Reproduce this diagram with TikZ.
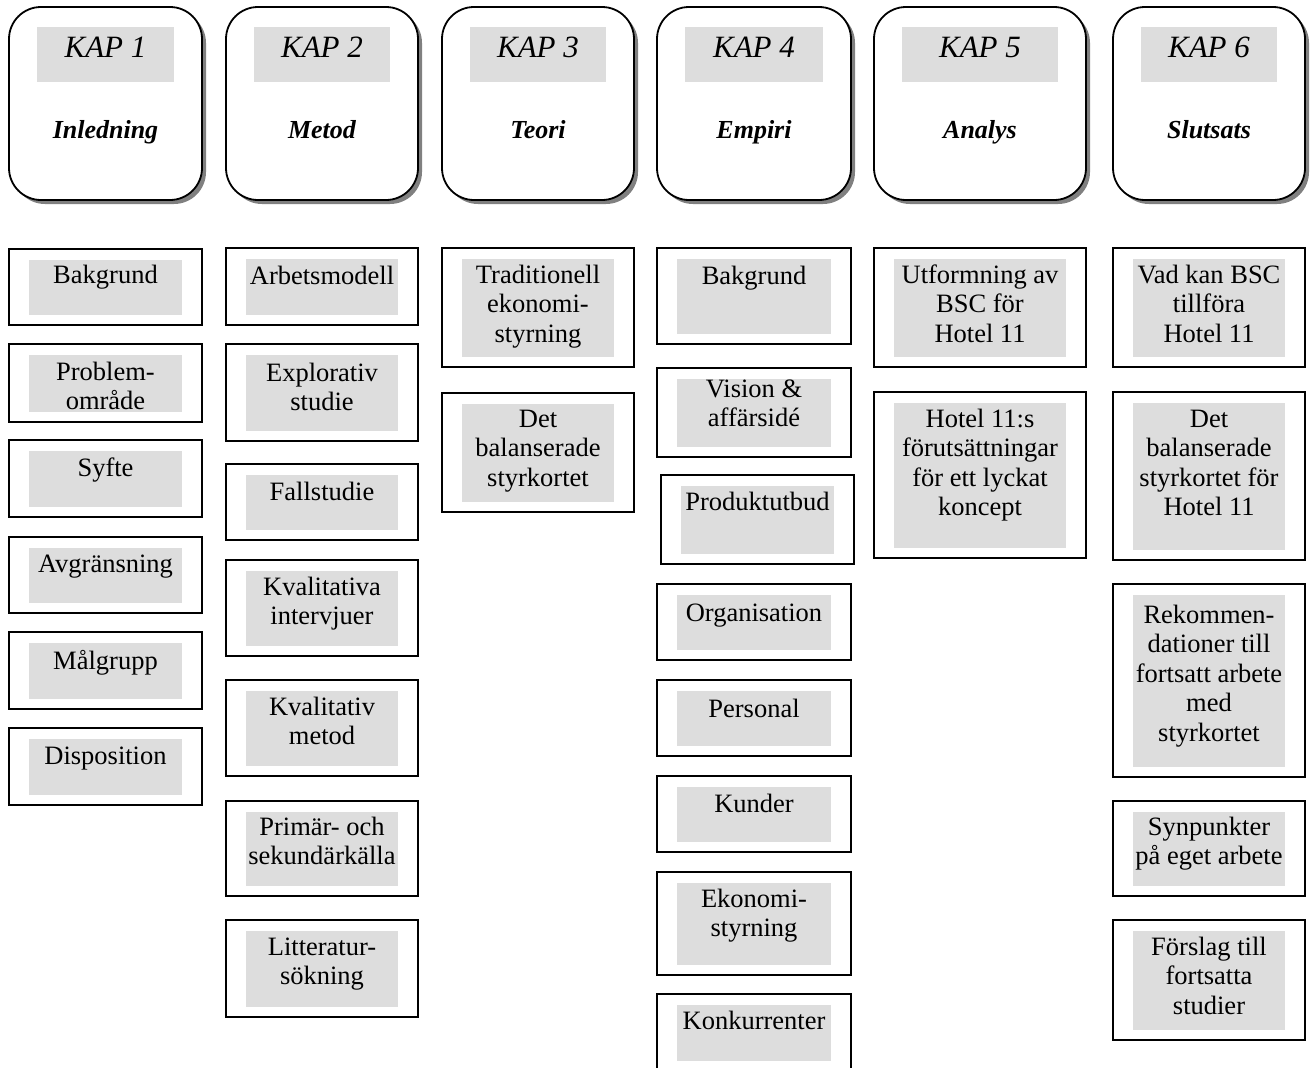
\documentclass[tikz,border=0pt]{standalone}
\usepackage{fontspec}
\setmainfont{Liberation Serif}
\usetikzlibrary{fit,calc,shadows}
\definecolor{panelgray}{HTML}{DDDDDD}
\definecolor{shadegray}{HTML}{808080}

\tikzset{
  secframe/.style={draw=black, line width=1.8pt, inner sep=0pt},
  panel/.style={fill=panelgray, draw=none, inner sep=0pt},
  boxtext/.style={align=center, inner sep=0pt, font=\fontsize{26.5}{29.5}\selectfont},
  chapframe/.style={draw=black, fill=white, line width=1.8pt, inner sep=0pt,
    rounded corners=32pt,
    drop shadow={shadow xshift=4pt, shadow yshift=-4pt, fill=shadegray, opacity=1}},
  kaptext/.style={inner sep=0pt, font=\fontsize{31}{36}\selectfont\itshape},
  titletext/.style={inner sep=0pt, font=\fontsize{26}{30}\selectfont\bfseries\itshape},
}

% chapter header: name, left, right, number label, title
\newcommand\chapbox[5]{%
  \node[chapframe, fit={(#2,7) (#3,200)}] (#1) {};
  \node[panel, fit={({#2+28},27) ({#3-28},82)}] (#1-bg) {};
  \node[kaptext, anchor=base] (#1-kap) at ({(#2+#3)/2},57) {#4};
  \node[titletext, anchor=base] (#1-title) at ({(#2+#3)/2},138) {#5};
}

% section box: name, left, top, right, bottom, first baseline, text
% (a 20pt strut on the first line puts the node top 20pt above that baseline)
\newcommand\secbox[7]{%
  \node[secframe, fit={(#2,#3) (#4,#5)}] (#1) {};
  \node[panel, fit={({#2+20},{#3+10.5}) ({#4-20},{#5-10.5})}] (#1-bg) {};
  \node[boxtext, anchor=north] (#1-txt) at ({(#2+#4)/2},{#6-20}) {\rule{0pt}{20pt}#7};
}

\begin{document}
\begin{tikzpicture}[x=1pt, y=-1pt]
\clip (0,0) rectangle (1312,1068);
\fill[white] (0,0) rectangle (1312,1068);

% chapter headers
\chapbox{k1}{9}{202}{KAP 1}{Inledning}
\chapbox{k2}{226}{418}{KAP 2}{Metod}
\chapbox{k3}{442}{634}{KAP 3}{Teori}
\chapbox{k4}{657}{851}{KAP 4}{Empiri}
\chapbox{k5}{874}{1086}{KAP 5}{Analys}
\chapbox{k6}{1113}{1305}{KAP 6}{Slutsats}

% KAP 1
\secbox{a1}{9}{249}{202}{325}{283}{Bakgrund}
\secbox{a2}{9}{344}{202}{422}{380}{Problem-\\område}
\secbox{a3}{9}{440}{202}{517}{476}{Syfte}
\secbox{a4}{9}{537}{202}{613}{572}{Avgränsning}
\secbox{a5}{9}{632}{202}{709}{669}{Målgrupp}
\secbox{a6}{9}{728}{202}{805}{764}{Disposition}

% KAP 2
\secbox{b1}{226}{248}{418}{325}{284}{Arbetsmodell}
\secbox{b2}{226}{344}{418}{441}{381}{Explorativ\\studie}
\secbox{b3}{226}{464}{418}{540}{500}{Fallstudie}
\secbox{b4}{226}{560}{418}{656}{595}{Kvalitativa\\intervjuer}
\secbox{b5}{226}{680}{418}{776}{715}{Kvalitativ\\metod}
\secbox{b6}{226}{801}{418}{896}{835}{Primär- och\\sekundärkälla}
\secbox{b7}{226}{920}{418}{1017}{955}{Litteratur-\\sökning}

% KAP 3
\secbox{c1}{442}{248}{634}{367}{283}{Traditionell\\ekonomi-\\styrning}
\secbox{c2}{442}{393}{634}{512}{427}{Det\\balanserade\\styrkortet}

% KAP 4
\secbox{d1}{657}{248}{851}{344}{284}{Bakgrund}
\secbox{d2}{657}{368}{851}{457}{397}{Vision \&\\affärsidé}
\secbox{d3}{661}{475}{854}{564}{510}{Produktutbud}
\secbox{d4}{657}{584}{851}{660}{621}{Organisation}
\secbox{d5}{657}{680}{851}{756}{717}{Personal}
\secbox{d6}{657}{776}{851}{852}{812}{Kunder}
\secbox{d7}{657}{872}{851}{975}{907}{Ekonomi-\\styrning}
\secbox{d8}{657}{994}{851}{1071.5}{1029}{Konkurrenter}

% KAP 5
\secbox{e1}{874}{248}{1086}{367}{283}{Utformning av\\BSC för\\Hotel 11}
\secbox{e2}{874}{392}{1086}{558}{427}{Hotel 11:s\\förutsättningar\\för ett lyckat\\koncept}

% KAP 6
\secbox{f1}{1113}{248}{1305}{367}{283}{Vad kan BSC\\tillföra\\Hotel 11}
\secbox{f2}{1113}{392}{1305}{560}{427}{Det\\balanserade\\styrkortet för\\Hotel 11}
\secbox{f3}{1113}{584}{1305}{777}{623}{Rekommen-\\dationer till\\fortsatt arbete\\med\\styrkortet}
\secbox{f4}{1113}{801}{1305}{896}{835}{Synpunkter\\på eget arbete}
\secbox{f5}{1113}{920}{1305}{1040}{955}{Förslag till\\fortsatta\\studier}
\end{tikzpicture}
\end{document}
